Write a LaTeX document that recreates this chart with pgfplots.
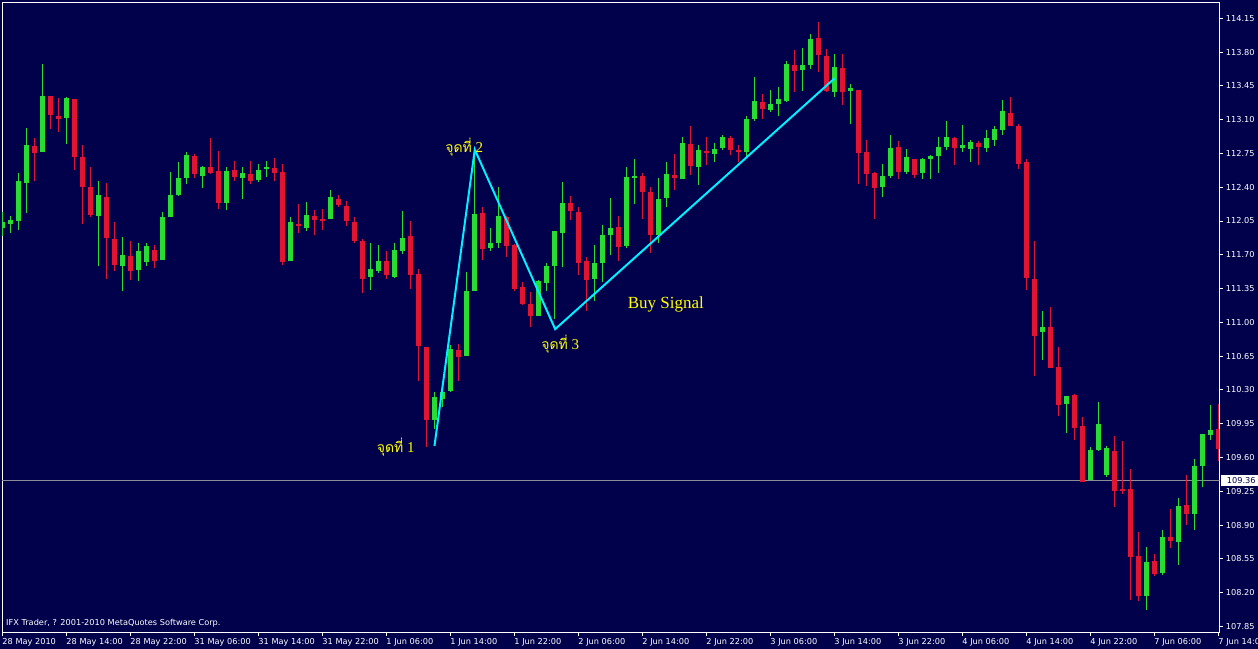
\documentclass[border=0pt]{standalone}
\usepackage{fontspec}
\setmainfont{Liberation Serif}
\newfontfamily\thaifont[Script=Thai]{Loma}
\newfontfamily\uifont{DejaVu Sans}
\usepackage{pgfplots}
\pgfplotsset{compat=1.18}
\usepackage{pgfplotstable}
\definecolor{bg}{RGB}{0,0,75}
\definecolor{cgreen}{RGB}{40,220,50}
\definecolor{cred}{RGB}{225,20,50}
\definecolor{ccyan}{RGB}{0,240,255}
\definecolor{cyel}{RGB}{255,255,0}
\definecolor{cgrayline}{RGB}{140,140,150}
\newcommand\uisize{\uifont\fontsize{8.2bp}{10bp}\selectfont}
\newcommand\thailabel[1]{{\fontsize{14bp}{16bp}\thaifont จุดที่}{\fontsize{15bp}{17bp}\rmfamily\ #1}}
\pgfplotsset{candle/.style={only marks, mark=*, mark size=0pt, mark options={draw=none, fill=none},
  error bars/.cd, y dir=plus, y explicit, error mark=none, error bar style={draw=#1}}}

\pgfplotstableread{
i o h l c
0 111.98 112.14 111.89 112.04
1 112.02 112.10 111.93 112.06
2 112.05 112.55 111.96 112.46
3 112.44 113.01 112.13 112.84
5 112.76 113.68 112.76 113.34
8 113.12 113.33 112.85 113.32
12 112.10 112.46 111.58 112.32
15 111.58 111.88 111.33 111.70
17 111.54 111.82 111.43 111.74
18 111.63 111.82 111.58 111.79
20 111.65 112.14 111.65 112.09
21 112.09 112.56 112.09 112.32
22 112.32 112.66 112.31 112.50
23 112.50 112.77 112.43 112.73
25 112.52 112.62 112.39 112.61
28 112.24 112.61 112.16 112.57
30 112.50 112.61 112.28 112.55
32 112.47 112.64 112.45 112.58
33 112.59 112.67 112.51 112.61
36 111.64 112.09 111.64 112.04
38 111.98 112.25 111.95 112.11
41 112.07 112.37 112.07 112.30
46 111.47 111.82 111.34 111.55
47 111.53 111.80 111.51 111.64
49 111.47 111.82 111.46 111.75
50 111.74 112.15 111.71 111.87
54 109.99 110.28 109.90 110.23
55 110.21 110.35 110.12 110.28
56 110.29 110.77 110.28 110.72
58 110.65 111.52 110.65 111.32
59 111.33 112.77 111.33 112.12
61 111.77 111.98 111.74 111.82
62 111.82 112.40 111.77 112.10
67 111.07 111.44 111.07 111.43
68 111.41 111.62 111.33 111.58
69 111.58 111.95 111.03 111.95
70 111.93 112.45 111.57 112.24
74 111.45 111.80 111.22 111.61
75 111.61 112.01 111.42 111.90
76 111.90 112.29 111.70 111.98
78 111.79 112.61 111.77 112.51
79 112.50 112.69 112.23 112.52
82 111.90 112.50 111.82 112.28
83 112.29 112.66 112.20 112.54
85 112.49 112.92 112.49 112.86
87 112.61 112.84 112.42 112.79
89 112.74 112.86 112.66 112.80
90 112.81 112.94 112.79 112.92
93 112.76 113.14 112.70 113.11
94 113.11 113.54 113.09 113.29
96 113.20 113.41 113.18 113.26
97 113.26 113.44 113.14 113.31
98 113.29 113.71 113.28 113.68
100 113.61 113.84 113.40 113.67
101 113.67 113.99 113.62 113.94
104 113.39 113.78 113.33 113.65
106 113.40 113.47 113.06 113.43
110 112.40 112.64 112.30 112.52
111 112.52 112.94 112.50 112.81
113 112.56 112.80 112.54 112.71
115 112.55 112.70 112.49 112.69
116 112.69 112.73 112.49 112.72
117 112.72 112.92 112.55 112.82
118 112.82 113.09 112.79 112.92
120 112.81 113.04 112.77 112.84
121 112.80 112.89 112.66 112.87
123 112.81 112.99 112.76 112.91
124 112.89 113.03 112.83 113.00
125 112.99 113.30 112.94 113.19
130 110.90 111.12 110.61 110.95
133 110.15 110.24 109.85 110.24
136 109.37 109.71 109.37 109.68
137 109.68 110.18 109.67 109.95
138 109.42 109.72 109.40 109.70
143 108.16 108.67 108.02 108.52
145 108.40 108.85 108.38 108.78
147 108.72 109.18 108.49 109.10
149 109.01 109.58 108.85 109.51
150 109.51 109.84 109.29 109.84
151 109.83 110.14 109.78 109.89
}\greentab

\pgfplotstableread{
i o h l c
4 112.83 112.91 112.46 112.75
6 113.35 113.35 113.00 113.15
7 113.14 113.32 112.97 113.11
9 113.31 113.31 112.58 112.71
10 112.71 112.84 112.02 112.40
11 112.40 112.61 112.09 112.11
13 112.30 112.44 111.45 111.87
14 111.86 112.04 111.53 111.59
16 111.69 111.84 111.44 111.53
19 111.75 111.80 111.56 111.64
24 112.72 112.74 112.50 112.54
26 112.61 112.91 112.54 112.55
27 112.57 112.78 112.17 112.24
29 112.58 112.67 112.46 112.51
31 112.54 112.67 112.43 112.46
34 112.60 112.70 112.46 112.55
35 112.56 112.64 111.59 111.63
37 112.02 112.23 111.93 112.00
39 112.10 112.16 111.90 112.06
40 112.07 112.17 111.96 112.05
42 112.28 112.32 112.19 112.22
43 112.21 112.26 112.00 112.05
44 112.04 112.09 111.82 111.84
45 111.84 111.86 111.30 111.45
48 111.64 111.74 111.45 111.49
51 111.89 112.05 111.35 111.49
52 111.50 111.55 110.39 110.75
53 110.74 110.74 109.71 109.99
57 110.71 110.78 110.39 110.64
60 112.13 112.20 111.65 111.76
63 112.09 112.10 111.68 111.79
64 111.80 111.81 111.33 111.35
65 111.37 111.42 111.18 111.19
66 111.19 111.31 110.95 111.07
71 112.24 112.31 112.06 112.15
72 112.14 112.19 111.49 111.62
73 111.64 111.68 111.12 111.44
77 111.99 112.10 111.64 111.78
80 112.52 112.55 112.07 112.35
81 112.35 112.40 111.72 111.91
84 112.53 112.74 112.37 112.50
86 112.85 113.03 112.53 112.62
88 112.78 112.92 112.63 112.75
91 112.91 112.93 112.73 112.79
92 112.79 112.84 112.66 112.77
95 113.28 113.37 113.11 113.21
99 113.67 113.82 113.39 113.60
102 113.95 114.11 113.59 113.77
103 113.76 113.83 113.39 113.40
105 113.64 113.78 113.25 113.39
107 113.41 113.41 112.43 112.75
108 112.77 112.89 112.41 112.54
109 112.55 112.56 112.07 112.39
112 112.82 112.88 112.49 112.56
114 112.69 112.69 112.50 112.53
119 112.91 112.92 112.63 112.81
122 112.86 112.88 112.63 112.82
126 113.17 113.33 113.03 113.03
127 113.03 113.05 112.59 112.64
128 112.66 112.69 111.34 111.46
129 111.45 111.84 110.44 110.86
131 110.95 111.16 110.53 110.53
132 110.54 110.74 110.03 110.14
134 110.25 110.26 109.78 109.91
135 109.93 110.02 109.35 109.35
139 109.67 109.82 109.09 109.25
140 109.27 109.77 109.22 109.25
141 109.27 109.48 108.12 108.57
142 108.58 108.83 108.11 108.17
144 108.53 108.60 108.37 108.39
146 108.78 109.07 108.66 108.73
148 109.11 109.42 108.90 109.01
152 109.90 110.15 109.56 109.69
}\redtab

\begin{document}
\begin{tikzpicture}[x=1bp,y=1bp]
\fill[bg] (0,0) rectangle (1258,649);
\useasboundingbox (0,0) rectangle (1258,649);
\begin{axis}[
  at={(2.5,17)}, anchor=south west,
  scale only axis, width=1217.5bp, height=630bp,
  xmin=-0.1, xmax=152.09, ymin=107.786, ymax=114.313,
  axis line style={white, line width=1bp},
  tick style={white, line width=1bp},
  tick align=outside, major tick length=3bp,
  xtick pos=bottom, ytick pos=right, yticklabel pos=right,
  xtick={0,8,...,152},
  xticklabels={28 May 2010,28 May 14:00,28 May 22:00,31 May 06:00,31 May 14:00,31 May 22:00,1 Jun 06:00,1 Jun 14:00,1 Jun 22:00,2 Jun 06:00,2 Jun 14:00,2 Jun 22:00,3 Jun 06:00,3 Jun 14:00,3 Jun 22:00,4 Jun 06:00,4 Jun 14:00,4 Jun 22:00,7 Jun 06:00,7 Jun 14:00},
  ytick={107.85,108.2,108.55,108.9,109.25,109.6,109.95,110.3,110.65,111,111.35,111.7,112.05,112.4,112.75,113.1,113.45,113.8,114.15},
  yticklabels={107.85,108.20,108.55,108.90,109.25,109.60,109.95,110.30,110.65,111.00,111.35,111.70,112.05,112.40,112.75,113.10,113.45,113.80,114.15},
  xticklabel style={anchor=north west, inner sep=0pt, font=\uisize, text=white, xshift=-0.5bp, yshift=-2.5bp},
  yticklabel style={anchor=west, inner sep=0pt, font=\uisize, text=white, xshift=3.2bp},
]
\addplot[color=cgrayline, line width=1bp, mark=none] coordinates {(-0.1,109.36) (152.09,109.36)};
% wicks
\addplot[cgreen, candle=cgreen, error bar style={line width=1bp}]
  table[x=i, y=l, y error plus expr=\thisrow{h}-\thisrow{l}] {\greentab};
\addplot[cred, candle=cred, error bar style={line width=1bp}]
  table[x=i, y=l, y error plus expr=\thisrow{h}-\thisrow{l}] {\redtab};
% bodies
\addplot[cgreen, candle=cgreen, error bar style={line width=5bp}]
  table[x=i, y=o, y error plus expr=\thisrow{c}-\thisrow{o}] {\greentab};
\addplot[cred, candle=cred, error bar style={line width=5bp}]
  table[x=i, y=c, y error plus expr=\thisrow{o}-\thisrow{c}] {\redtab};
% zigzag
\addplot[ccyan, line width=2bp, mark=none] coordinates {(53.96,109.72) (59,112.79) (69.05,110.93) (104,113.53)};
\node[anchor=base east, inner sep=0pt, text=cyel] at (axis cs:51.5,109.65) {\thailabel{1}};
\node[anchor=base west, inner sep=0pt, text=cyel] at (axis cs:55.3,112.76) {\thailabel{2}};
\node[anchor=base west, inner sep=0pt, text=cyel] at (axis cs:67.3,110.72) {\thailabel{3}};
\node[anchor=base west, inner sep=0pt, text=cyel, font=\fontsize{17bp}{19bp}\rmfamily] at (axis cs:78.1,111.14) {Buy Signal};
\end{axis}
\fill[white] (1221,162.5) rectangle (1258,174);
\node[anchor=west, inner sep=0pt, text=bg, font=\uisize] at (1226.7,168) {109.36};
\node[anchor=base west, inner sep=0pt, text=white, font=\uisize] at (6,23) {IFX Trader, ? 2001-2010 MetaQuotes Software Corp.};
\end{tikzpicture}
\end{document}
